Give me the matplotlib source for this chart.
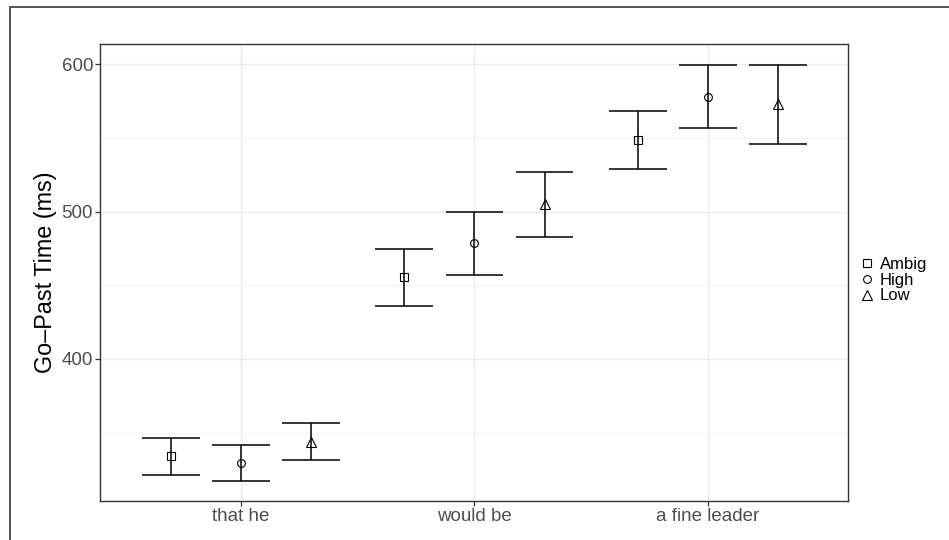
import matplotlib.pyplot as plt
from matplotlib.lines import Line2D
from matplotlib.patches import Rectangle
import numpy as np

plt.rcParams['font.family'] = ['Liberation Sans', 'DejaVu Sans']

# Data (mean and interval ends, ms)
regions = ['that he', 'would be', 'a fine leader']
conditions = ['Ambig', 'High', 'Low']
markers = ['s', 'o', '^']

ambig_mean = [334.0, 455.3, 548.8]
ambig_lo = [321.4, 435.9, 529.0]
ambig_hi = [346.2, 474.8, 568.5]

high_mean = [329.5, 478.6, 577.8]
high_lo = [317.6, 457.2, 556.3]
high_hi = [341.9, 500.0, 599.3]

low_mean = [344.0, 505.0, 572.8]
low_lo = [331.3, 483.0, 546.0]
low_hi = [356.7, 527.0, 599.5]

means = [ambig_mean, high_mean, low_mean]
los = [ambig_lo, high_lo, low_lo]
his = [ambig_hi, high_hi, low_hi]

fig = plt.figure(figsize=(9.49, 5.4), dpi=100)
ax = fig.add_axes([100 / 949, 1 - 501 / 540, 748 / 949, 457 / 540])

# outer frame (cropped at right/bottom)
fig.patches.append(Rectangle((10 / 949, -0.1), 1.2, 1.1 - 6.5 / 540,
                             transform=fig.transFigure, fill=False,
                             edgecolor='#444444', lw=1.3))

x = np.arange(1, len(regions) + 1)
dodge = 0.3
half_cap = 0.124

for i, cond in enumerate(conditions):
    xs = x + (i - 1) * dodge
    ax.vlines(xs, los[i], his[i], color='black', lw=1.1, zorder=3)
    ax.hlines(los[i], xs - half_cap, xs + half_cap, color='black', lw=1.1, zorder=3)
    ax.hlines(his[i], xs - half_cap, xs + half_cap, color='black', lw=1.1, zorder=3)
    ms = 6.5 if markers[i] == '^' else 5.6
    ax.plot(xs, means[i], linestyle='none', marker=markers[i], ms=ms,
            mfc='none', mec='black', mew=0.8, zorder=4)

ax.set_xlim(0.396, 3.6)
ax.set_ylim(303.7, 613.6)
ax.set_xticks(x)
ax.set_xticklabels(regions)
ax.set_yticks([400, 500, 600])
ax.set_yticks([350, 450, 550], minor=True)

ax.grid(True, which='major', color='#EBEBEB', lw=1.0)
ax.grid(True, which='minor', axis='y', color='#F2F2F2', lw=0.8)
ax.set_axisbelow(True)

for s in ax.spines.values():
    s.set_color('#333333')
    s.set_linewidth(1.0)

ax.tick_params(axis='both', which='major', length=3.5, width=0.9, color='#333333',
               labelsize=13.5, labelcolor='#4D4D4D', pad=1.5)
ax.tick_params(axis='both', which='minor', length=0)

fig.text(46 / 949, 1 - 272 / 540, 'Go\u2013Past Time (ms)', rotation=90,
         ha='center', va='center', fontsize=16.8, color='black')

handles = [Line2D([], [], linestyle='none', marker=m, ms=(6.5 if m == '^' else 5.6),
                  mfc='none', mec='black', mew=0.8) for m in markers]
fig.legend(handles, conditions, loc='center left', bbox_to_anchor=(860 / 949, 1 - 280 / 540),
           frameon=False, fontsize=12, handlelength=0.8, handletextpad=0.4,
           labelspacing=0.05, borderpad=0, borderaxespad=0)

fig.savefig('out.png', dpi=100)
